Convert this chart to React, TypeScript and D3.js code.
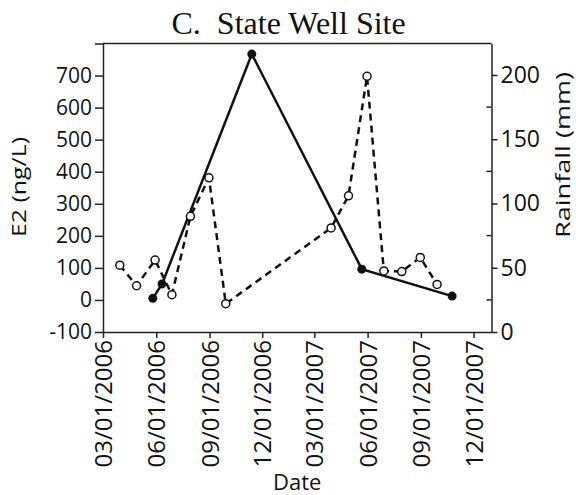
import { useRef, useEffect } from "react";
import * as d3 from "d3";

// E2 concentration (left axis, ng/L)
const e2Dates = ["2006-05-26", "2006-06-11", "2006-11-13", "2007-05-22", "2007-10-25"];
const e2Values = [5, 50, 767, 96, 12];

// monthly rainfall (right axis, mm)
const rainDates = [
  "2006-03-30", "2006-04-28", "2006-05-30", "2006-06-28", "2006-07-30", "2006-08-31", "2006-09-29",
  "2007-03-30", "2007-04-29", "2007-05-31", "2007-06-29", "2007-07-30", "2007-08-31", "2007-09-29",
];
const rainValues = [52, 36, 56, 29, 90, 120, 22, 81, 106, 199, 47.5, 47, 58, 37];

const dateTicks = [
  "2006-03-01", "2006-06-01", "2006-09-01", "2006-12-01",
  "2007-03-01", "2007-06-01", "2007-09-01", "2007-12-01",
];
const e2Ticks = [-100, 0, 100, 200, 300, 400, 500, 600, 700, 800];
const rainTicks = [0, 50, 100, 150, 200];
const rainMinorTicks = [25, 75, 125, 175];

export default function App() {
  const svgRef = useRef<SVGSVGElement>(null);

  useEffect(() => {
    const width = 576;
    const height = 495;
    const left = 103, right = 491.5, top = 43.5, bottom = 332;
    const parse = d3.utcParse("%Y-%m-%d");
    const font = "'Open Sans', sans-serif";
    const axisColor = "#222";

    const svg = d3.select(svgRef.current);
    svg.attr("width", width).attr("height", height).attr("viewBox", `0 0 ${width} ${height}`);
    svg.selectAll("*").remove();

    svg.append("rect").attr("width", width).attr("height", height).attr("fill", "#fff");

    const x = d3.scaleUtc()
      .domain([parse("2006-03-01")!, parse("2008-01-01")!])
      .range([left, right]);
    const yL = d3.scaleLinear().domain([-100, 800]).range([bottom, top]);
    const yR = d3.scaleLinear().domain([0, 224.5]).range([bottom, top]);

    // title
    svg.append("text")
      .attr("x", 171.5)
      .attr("y", 34)
      .attr("font-family", "'Liberation Serif', 'Times New Roman', serif")
      .attr("font-size", "32px")
      .attr("fill", "#111")
      .style("white-space", "pre")
      .text("C.  State Well Site");

    // frame top
    svg.append("line")
      .attr("x1", left).attr("x2", right)
      .attr("y1", top).attr("y2", top)
      .attr("stroke", axisColor).attr("stroke-width", 1.5);

    // left axis
    const gL = svg.append("g")
      .attr("transform", `translate(${left},0)`)
      .call(
        d3.axisLeft(yL)
          .tickValues(e2Ticks)
          .tickSize(8)
          .tickSizeOuter(0)
          .tickPadding(3)
          .tickFormat((d) => (+d === 800 ? "" : String(d)))
      );
    gL.attr("font-family", font).attr("font-size", "21px");

    // right axis
    const gR = svg.append("g")
      .attr("transform", `translate(${right},0)`)
      .call(
        d3.axisRight(yR)
          .tickValues(rainTicks)
          .tickSize(6)
          .tickSizeOuter(0)
          .tickPadding(3)
      );
    gR.attr("font-family", font).attr("font-size", "23px");
    gR.selectAll(".minor")
      .data(rainMinorTicks)
      .enter()
      .append("line")
      .attr("class", "minor")
      .attr("x1", -5).attr("x2", 0)
      .attr("y1", (d) => yR(d)).attr("y2", (d) => yR(d))
      .attr("stroke", axisColor).attr("stroke-width", 1.5);

    // bottom axis
    const gB = svg.append("g")
      .attr("transform", `translate(0,${bottom})`)
      .call(
        d3.axisBottom(x)
          .tickValues(dateTicks.map((d) => parse(d)!))
          .tickSize(6)
          .tickSizeOuter(0)
          .tickFormat((d) => d3.utcFormat("%m/%d/%Y")(d as Date))
      );
    gB.attr("font-family", font).attr("font-size", "24px");
    gB.selectAll("text")
      .attr("transform", "rotate(-90)")
      .attr("x", -8)
      .attr("y", 0)
      .attr("dy", "0.36em")
      .attr("text-anchor", "end");

    [gL, gR, gB].forEach((g) => {
      g.selectAll("path, line").attr("stroke", axisColor).attr("stroke-width", 1.5);
      g.selectAll("text").attr("fill", "#111");
    });

    // axis titles
    svg.append("text")
      .attr("transform", `translate(26,187) rotate(-90)`)
      .attr("text-anchor", "middle")
      .attr("font-family", font)
      .attr("font-size", "20px")
      .attr("fill", "#111")
      .attr("textLength", 100)
      .attr("lengthAdjust", "spacingAndGlyphs")
      .text("E2 (ng/L)");

    svg.append("text")
      .attr("transform", `translate(570,155) rotate(-90)`)
      .attr("text-anchor", "middle")
      .attr("font-family", font)
      .attr("font-size", "20px")
      .attr("fill", "#111")
      .attr("textLength", 166)
      .attr("lengthAdjust", "spacingAndGlyphs")
      .text("Rainfall (mm)");

    svg.append("text")
      .attr("x", (left + right) / 2)
      .attr("y", 490)
      .attr("text-anchor", "middle")
      .attr("font-family", font)
      .attr("font-size", "22px")
      .attr("fill", "#111")
      .text("Date");

    // rainfall: dashed line with open circles
    const rain = rainDates.map((d, i) => ({ date: parse(d)!, v: rainValues[i] }));
    svg.append("path")
      .datum(rain)
      .attr("fill", "none")
      .attr("stroke", "#111")
      .attr("stroke-width", 2.5)
      .attr("stroke-dasharray", "7,5")
      .attr("d", d3.line<{ date: Date; v: number }>().x((d) => x(d.date)).y((d) => yR(d.v)));

    // E2: solid line with filled circles
    const e2 = e2Dates.map((d, i) => ({ date: parse(d)!, v: e2Values[i] }));
    svg.append("path")
      .datum(e2)
      .attr("fill", "none")
      .attr("stroke", "#111")
      .attr("stroke-width", 2.5)
      .attr("d", d3.line<{ date: Date; v: number }>().x((d) => x(d.date)).y((d) => yL(d.v)));

    svg.selectAll(".rain-pt")
      .data(rain)
      .enter()
      .append("circle")
      .attr("class", "rain-pt")
      .attr("cx", (d) => x(d.date))
      .attr("cy", (d) => yR(d.v))
      .attr("r", 4)
      .attr("fill", "#fff")
      .attr("stroke", "#111")
      .attr("stroke-width", 1.5);

    svg.selectAll(".e2-pt")
      .data(e2)
      .enter()
      .append("circle")
      .attr("class", "e2-pt")
      .attr("cx", (d) => x(d.date))
      .attr("cy", (d) => yL(d.v))
      .attr("r", 4.5)
      .attr("fill", "#111");
  }, []);

  return (
    <div style={{ position: "absolute", left: 0, top: 0 }}>
      <svg ref={svgRef} style={{ display: "block" }} />
    </div>
  );
}
